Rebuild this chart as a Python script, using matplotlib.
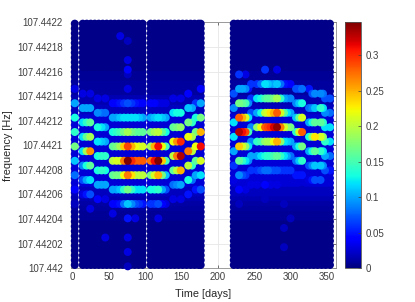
import matplotlib
matplotlib.use("Agg")
import matplotlib.pyplot as plt
import numpy as np

plt.rcParams['font.family'] = ['Liberation Sans', 'DejaVu Sans']

BASE_HZ = 107.442
X_LIMITS = (-2.8, 362.2)
Y_LIMITS = (107.442, 107.4422)
V_MAX = 0.346

x_ticks = [0, 50, 100, 150, 200, 250, 300, 350]
y_tick_labels = ['107.442', '107.44202', '107.44204', '107.44206', '107.44208', '107.4421',
                 '107.44212', '107.44214', '107.44216', '107.44218', '107.4422']
c_ticks = [0, 0.05, 0.1, 0.15, 0.2, 0.25, 0.3]
c_tick_labels = ['0', '0.05', '0.1', '0.15', '0.2', '0.25', '0.3']

# background sampling: observation days and frequency rows (in 1e-6 Hz above BASE_HZ)
floor_days = [2.8, 13.8, 19.3, 24.8, 30.3, 35.8, 41.3, 46.8, 52.3, 57.8, 63.3, 68.8, 74.3, 79.8, 85.3, 90.8, 96.3,
              107.3, 112.8, 118.3, 123.8, 129.3, 134.8, 140.3, 145.8, 151.3, 156.8, 162.3, 167.8, 173.3, 176.3,
              221.8, 227.3, 232.8, 238.3, 243.8, 249.3, 254.8, 260.3, 265.8, 271.3, 276.8, 282.3, 287.8, 293.3,
              298.8, 304.3, 309.8, 315.3, 320.8, 326.3, 331.8, 337.3, 342.8, 348.3, 354.3]
floor_freqs = np.linspace(2.7, 198.9, 51)
floor_levels = ([.004] * 10 + [.007] * 2 + [.01, .012, .016] + [.02] * 2 + [.026] * 15
                + [.02] * 2 + [.015] * 2 + [.01] * 3 + [.007] * 2 + [.003] * 10)

# ridge rows: row index 0 is 87.4e-6 Hz above BASE_HZ, each index is 3.9e-6 Hz lower
ROW_ZERO = 87.4
ROW_STEP = 3.9

column_days = [2.8, 13.8, 24.1, 34.4, 44.8, 55.1, 65.4, 75.8, 86.1, 96.4, 107.4, 117.8, 128.1, 138.4, 148.8,
               159.1, 169.4, 176.3,
               221.8, 229.1, 238.0, 245.6, 253.9, 264.9, 272.5, 281.4, 291.0, 300.0, 307.6, 315.9, 325.5, 333.7,
               341.3, 347.5, 354.3]

# per column: {row index: amplitude in hundredths}
column_levels = [
    {-15: 3, -12: 10, -9: 13, -6: 14, -3: 17, 0: 11, 3: 8, 6: 4, 9: 2},
    {-14: 3, -11: 10, -8: 12, -5: 12, -2: 12, 1: 9, 4: 7, 7: 3},
    {-14: 3, -11: 10, -8: 16, -5: 19, -2: 26, 1: 16, 4: 12, 7: 7, 10: 3},
    {-13: 3, -10: 9, -7: 13, -4: 12, -1: 13, 2: 13, 5: 10, 8: 4},
    {-13: 3, -10: 8, -7: 10, -4: 10, -1: 14, 2: 13, 5: 10, 8: 3, 16: 3},
    {-12: 4, -9: 10, -6: 13, -3: 16, 0: 20, 3: 16, 6: 10, 9: 4, 11: 3},
    {-26: 3, -12: 5, -9: 11, -6: 15, -3: 19, 0: 21, 3: 17, 6: 11, 9: 5},
    {-25: 2, -21: 3, -19: 4, -18: 2, -15: 3, -12: 7, -9: 12, -6: 19, -3: 29, 0: 35, 3: 27, 6: 17, 9: 11, 12: 5,
     16: 3, 19: 3, 22: 2},
    {-12: 5, -9: 12, -6: 16, -3: 22, 0: 28, 3: 20, 6: 12, 9: 7, 12: 3},
    {-12: 4, -9: 10, -6: 16, -3: 21, 0: 28, 3: 20, 6: 12, 9: 5},
    {-12: 4, -9: 10, -6: 17, -3: 19, 0: 27, 3: 17, 6: 13, 9: 6},
    {-12: 3, -9: 12, -6: 20, -3: 31, 0: 35, 3: 25, 6: 14, 9: 7, 12: 3},
    {-12: 3, -9: 10, -6: 13, -3: 15, 0: 15, 3: 11, 6: 7, 9: 3},
    {-13: 3, -10: 12, -7: 16, -4: 22, -1: 20, 2: 16, 5: 8, 8: 3},
    {-13: 3, -10: 13, -7: 18, -4: 30, -1: 33, 2: 25, 5: 10, 8: 3},
    {-14: 4, -11: 11, -8: 17, -5: 22, -2: 27, 1: 20, 4: 13, 7: 5},
    {-12: 6, -9: 13, -6: 17, -3: 22, 0: 16, 3: 10, 6: 5},
    {-15: 4, -12: 10, -9: 17, -6: 25, -3: 31, 0: 21, 3: 12, 6: 7},
    {-14: 7, -11: 9, -8: 12, -5: 12, -2: 10, 1: 6, 4: 3},
    {-18: 6, -15: 10, -12: 17, -9: 28, -6: 33, -3: 24, 0: 16, 3: 9, 6: 4, 9: 2},
    {-18: 3, -15: 9, -12: 15, -9: 21, -6: 29, -3: 18, 0: 12, 3: 6, 6: 3},
    {-16: 6, -13: 6, -10: 7, -7: 9, -4: 9, -1: 10, 2: 6, 5: 3},
    {-16: 6, -13: 12, -10: 10, -7: 18, -4: 14, -1: 10, 2: 6, 5: 3},
    {-19: 6, -16: 12, -13: 15, -10: 20, -7: 28, -4: 18, -1: 13, 2: 8, 5: 4, 8: 2},
    {-16: 9, -13: 16, -10: 23, -7: 30, -4: 19, -1: 14, 2: 7, 5: 3},
    {-19: 3, -16: 11, -13: 19, -10: 28, -7: 34, -4: 25, -1: 16, 2: 7, 5: 3},
    {-16: 5, -13: 10, -10: 16, -7: 21, -4: 12, -1: 12, 2: 6, 9: 2, 14: 2, 18: 2},
    {-16: 4, -13: 9, -10: 10, -7: 17, -4: 10, -1: 8, 2: 6, 12: 2},
    {-15: 7, -12: 9, -9: 11, -6: 14, -3: 10, 0: 8, 3: 5},
    {-15: 8, -12: 13, -9: 21, -6: 28, -3: 17, 0: 14, 3: 5, 6: 2},
    {-15: 5, -11: 8, -8: 10, -5: 13, -2: 10, 1: 7, 4: 3},
    {-14: 9, -11: 11, -8: 16, -5: 23, -2: 16, 1: 11, 4: 7},
    {-14: 9, -11: 14, -8: 16, -5: 21, -2: 14, 1: 11, 4: 7},
    {-13: 7, -10: 9, -7: 12, -4: 14, -1: 10, 2: 7},
    {-13: 7, -10: 8, -7: 12, -4: 12, -1: 8, 2: 5},
]

# columns in between, where the ridges read as continuous bars
between_days = [19.0, 39.7, 60.3, 70.6, 81.0, 91.3, 112.7, 123.0, 143.6, 164.3,
                233.5, 241.8, 259.5, 268.8, 277.0, 286.2, 295.0, 312.0, 330.0, 344.7]
between_levels = [
    {-11: 10, -8: 14, -5: 16, -2: 19, 1: 13, 4: 10, 7: 5},
    {-10: 8, -7: 12, -4: 11, -1: 14, 2: 14, 5: 10},
    {-12: 4, -9: 10, -6: 14, -3: 17, 0: 21, 3: 17, 6: 10, 9: 4},
    {-12: 6, -9: 12, -6: 17, -3: 24, 0: 27, 3: 22, 6: 14, 9: 8},
    {-12: 6, -9: 12, -6: 17, -3: 25, 0: 30, 3: 23, 6: 14, 9: 9},
    {-12: 4, -9: 11, -6: 16, -3: 21, 0: 28, 3: 20, 6: 12, 9: 6},
    {-12: 4, -9: 11, -6: 19, -3: 25, 0: 31, 3: 21, 6: 13, 9: 6},
    {-12: 3, -9: 11, -6: 16, -3: 22, 0: 24, 3: 17, 6: 10, 9: 4},
    {-10: 13, -7: 17, -4: 26, -1: 27, 2: 20, 5: 9},
    {-11: 10, -8: 14, -5: 19, -2: 20, 1: 14, 4: 8},
    {-15: 10, -12: 16, -9: 25, -6: 31, -3: 21, 0: 14, 3: 7},
    {-15: 5, -12: 9, -9: 12, -6: 15, -3: 12, 0: 9},
    {-16: 8, -13: 13, -10: 13, -7: 22, -4: 15, -1: 12, 2: 7},
    {-16: 11, -13: 16, -10: 21, -7: 29, -4: 19, -1: 14, 2: 8},
    {-16: 10, -13: 17, -10: 25, -7: 32, -4: 22, -1: 15, 2: 7},
    {-16: 8, -13: 14, -10: 21, -7: 27, -4: 18, -1: 14, 2: 6},
    {-16: 4, -13: 9, -10: 12, -7: 18, -4: 11, -1: 10, 2: 6},
    {-15: 7, -12: 11, -9: 16, -6: 21, -3: 13, 0: 11, 3: 5},
    {-14: 7, -11: 9, -8: 13, -5: 18, -2: 13, 1: 9, 4: 5},
    {-14: 8, -11: 12, -8: 14, -5: 18, -2: 12, 1: 9},
]

GREY = '#404040'
W, H = 415, 302
fig = plt.figure(figsize=(W / 100, H / 100), dpi=100)
ax = fig.add_axes([70.7 / W, (H - 268.3) / H, 265 / W, 246 / H])

fd, ff = np.meshgrid(floor_days, floor_freqs)
fl = np.repeat(np.array(floor_levels)[:, None], len(floor_days), axis=1)
kw = dict(s=33, cmap='jet', vmin=0, vmax=V_MAX, linewidths=0, clip_on=False)
ax.scatter(fd.ravel(), BASE_HZ + ff.ravel() * 1e-6, c=fl.ravel(), zorder=3, **kw)

t, f, v = [], [], []
for day, col in zip(column_days + between_days, column_levels + between_levels):
    for row, level in col.items():
        t.append(day)
        f.append(ROW_ZERO - row * ROW_STEP)
        v.append(level / 100)
order = np.argsort(v)
t, f, v = np.array(t)[order], np.array(f)[order], np.array(v)[order]
sc = ax.scatter(t, BASE_HZ + f * 1e-6, c=v, zorder=4, **kw)

ax.set_xlim(*X_LIMITS)
ax.set_ylim(*Y_LIMITS)
ax.set_xticks(x_ticks)
ax.set_yticks(np.linspace(Y_LIMITS[0], Y_LIMITS[1], len(y_tick_labels)))
ax.set_yticklabels(y_tick_labels)
ax.grid(True, color='#e6e6e6', lw=0.6, zorder=0)
ax.set_axisbelow(True)
ax.tick_params(direction='in', length=2.2, width=0.5, colors=GREY, labelsize=7, top=True, right=True, pad=2.5)
ax.tick_params(axis='y', pad=5.5)
for s in ax.spines.values():
    s.set_color('#8c8c8c')
    s.set_linewidth(0.6)
ax.set_xlabel('Time [days]', fontsize=7.8, color='#262626', labelpad=5)
ax.set_ylabel('frequency [Hz]', fontsize=7.8, color='#262626')
ax.yaxis.set_label_coords((12.5 - 70.7) / 265, 0.5)

cax = fig.add_axes([345.3 / W, (H - 268.3) / H, 15.7 / W, 246 / H])
cb = fig.colorbar(sc, cax=cax)
cb.set_ticks(c_ticks)
cb.set_ticklabels(c_tick_labels)
cb.ax.tick_params(direction='in', length=2.2, width=0.5, colors=GREY, labelsize=7, pad=3)
cb.outline.set_edgecolor('#555555')
cb.outline.set_linewidth(0.6)

fig.savefig('out.png', dpi=100)
